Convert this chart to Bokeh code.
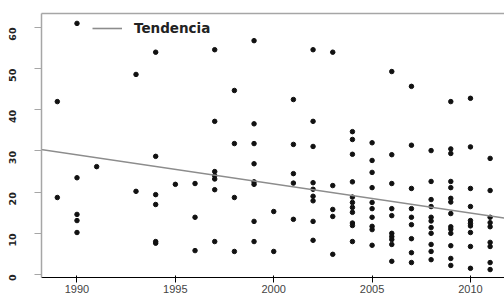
import math
from bokeh.plotting import figure
from bokeh.models import Range1d, FixedTicker, Legend, LegendItem, LinearAxis
from bokeh.embed import file_html
from bokeh.resources import INLINE

# ---- data ----
year = (
    [1989] * 2 + [1990] * 5 + [1991] * 1 + [1993] * 2 + [1994] * 6 + [1995] * 1 +
    [1996] * 3 + [1997] * 7 + [1998] * 4 + [1999] * 8 + [2000] * 2 + [2001] * 5 +
    [2002] * 9 + [2003] * 5 + [2004] * 11 + [2005] * 10 + [2006] * 10 + [2007] * 9 +
    [2008] * 11 + [2009] * 14 + [2010] * 10 + [2011] * 9
)
value = [
    42.0, 18.7,
    61.0, 23.5, 14.6, 13.1, 10.2,
    26.2,
    48.6, 20.2,
    54.0, 28.7, 19.4, 17.0, 8.0, 7.6,
    21.9,
    22.1, 13.9, 5.8,
    54.6, 37.2, 25.0, 24.0, 23.2, 20.6, 8.0,
    44.7, 31.8, 18.7, 5.6,
    56.8, 36.6, 31.8, 26.9, 22.5, 21.9, 12.9, 8.0,
    15.3, 5.6,
    42.5, 31.6, 24.5, 22.2, 13.4,
    54.6, 37.2, 31.1, 22.3, 20.7, 19.0, 17.9, 12.9, 8.3,
    54.0, 21.6, 15.8, 14.1, 4.9,
    34.7, 32.8, 29.2, 22.5, 18.8, 17.5, 16.3, 15.1, 12.5, 11.9, 8.0,
    32.0, 27.7, 24.8, 21.1, 17.5, 16.0, 13.9, 11.7, 10.9, 7.1,
    49.3, 29.1, 22.1, 16.0, 14.3, 10.0, 9.2, 8.5, 7.3, 3.2,
    45.7, 31.4, 20.9, 16.0, 13.9, 12.1, 8.7, 5.3, 2.9,
    30.1, 22.6, 18.2, 16.5, 13.9, 13.0, 11.4, 10.0, 7.3, 5.6, 3.6,
    42.0, 30.5, 29.4, 22.6, 21.1, 18.5, 17.6, 14.8, 11.6, 11.0, 10.0, 7.0, 3.9, 2.2,
    42.8, 31.0, 20.9, 16.5, 13.1, 12.4, 11.8, 10.2, 6.8, 1.5,
    28.2, 20.4, 13.9, 12.6, 11.6, 7.8, 6.8, 2.9, 1.2,
]
trend_x = [1988.1, 2011.9]
trend_y = [30.4, 13.6]
x_ticks = [1990, 1995, 2000, 2005, 2010]
y_ticks = [0, 10, 20, 30, 40, 50, 60]
legend_label = "Tendencia"

AXIS_GRAY = "#a6a6a6"
LABEL_COLOR = "#222222"

p = figure(
    width=504, height=295,
    output_backend="svg", toolbar_location=None,
    x_range=Range1d(1988.196, 2011.73),
    y_range=Range1d(-0.73, 63.4),
    min_border_left=41, min_border_right=0, min_border_top=13, min_border_bottom=18,
)
p.background_fill_color = "white"
p.border_fill_color = "white"
p.outline_line_color = None
p.xgrid.visible = False
p.ygrid.visible = False

pts = p.scatter(year, value, marker="circle", size=4.5,
                fill_color="#111111", line_color="#111111")
trend = p.line(trend_x, trend_y, line_color="#8c8c8c", line_width=1.6)

# top border line (no ticks, no labels)
top = LinearAxis(ticker=FixedTicker(ticks=[]))
top.axis_line_color = AXIS_GRAY
top.axis_line_width = 1.5
top.major_tick_out = 0
top.major_tick_in = 0
top.minor_tick_line_color = None
top.major_label_standoff = 0
top.major_label_text_font_size = "0px"
p.add_layout(top, "above")

for ax in (p.xaxis[0], p.yaxis[0]):
    ax.axis_line_color = AXIS_GRAY
    ax.axis_line_width = 1.5
    ax.major_tick_line_color = AXIS_GRAY
    ax.major_tick_line_width = 1.2
    ax.minor_tick_line_color = None
    ax.major_tick_in = 0
    ax.major_label_text_color = LABEL_COLOR
    ax.major_label_text_font = "DejaVu Sans"
    ax.major_label_text_font_style = "bold"

xa = p.below[0]
xa.ticker = FixedTicker(ticks=x_ticks)
xa.major_tick_out = 5
xa.major_label_standoff = 2
xa.major_label_text_font_size = "11px"

ya = p.left[0]
ya.ticker = FixedTicker(ticks=y_ticks)
ya.major_tick_out = 7
ya.major_label_standoff = 22
ya.major_label_orientation = math.pi / 2
ya.major_label_text_font_size = "9.5px"

legend = Legend(items=[LegendItem(label=legend_label, renderers=[trend])],
                location=(51, 239))
legend.border_line_color = None
legend.background_fill_alpha = 0
legend.margin = 0
legend.padding = 0
legend.glyph_width = 30
legend.glyph_height = 20
legend.label_standoff = 12
legend.label_text_font = "DejaVu Sans"
legend.label_text_font_style = "bold"
legend.label_text_font_size = "13.5px"
legend.label_text_color = LABEL_COLOR
p.add_layout(legend, "center")

open("out.html", "w").write(file_html(p, INLINE))
